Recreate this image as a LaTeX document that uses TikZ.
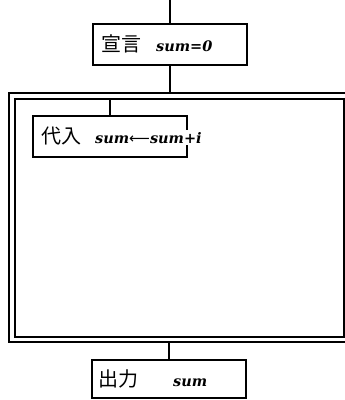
\documentclass[tikz,border=0pt]{standalone}
\usepackage{fontspec}
\newfontfamily\cjk{Noto Sans CJK JP}
\newfontfamily\varf{DejaVu Serif}
\newfontfamily\arrf{DejaVu Sans}
\begin{document}
\begin{tikzpicture}[x=1pt,y=-1pt,
  ln/.style={line width=2pt, line cap=butt},
  boxnode/.style={draw, line width=2pt, anchor=north west, inner sep=0pt, outer sep=0pt},
  jp/.style={font=\cjk\fontsize{20}{20}\selectfont, anchor=base west, inner sep=0pt},
  var/.style={font=\varf\bfseries\itshape\fontsize{14.5}{14.5}\selectfont, anchor=base west, inner sep=0pt}]
\useasboundingbox (0,0) rectangle (345,400);
\clip (0,0) rectangle (345,400);
% frames
\node[boxnode, minimum width=345pt, minimum height=249pt] (outer) at (9,93) {};
\node[boxnode, minimum width=329pt, minimum height=238pt] (inner) at (15,99) {};
% boxes
\node[boxnode, minimum width=154pt, minimum height=41pt] (decl) at (93,24) {};
\node[boxnode, minimum width=154pt, minimum height=41pt] (assign) at (33,116) {};
\node[boxnode, minimum width=154pt, minimum height=38pt] (out) at (92,360) {};
\coordinate (top) at (decl.north |- 0,0);
% texts
\node[jp] (t1) at (101,51) {宣言};
\node[var] (v1) at (156,51) {sum=0};
\node[jp] (t2) at (41,143) {代入};
\node[var, fill=white, inner ysep=2pt] (v2) at (95,143) {sum{\arrf\mdseries\upshape ⟵}sum+i};
\node[jp] (t3) at (98,386) {出力};
\node[var] (v3) at (173,386) {sum};
% connectors
\draw[ln] (top) -- (decl.north);
\draw[ln] (decl.south) -- (decl.south |- outer.north);
\draw[ln] (assign.north |- inner.north) -- (assign.north);
\draw[ln] (out.north |- outer.south) -- (out.north);
\end{tikzpicture}
\end{document}
